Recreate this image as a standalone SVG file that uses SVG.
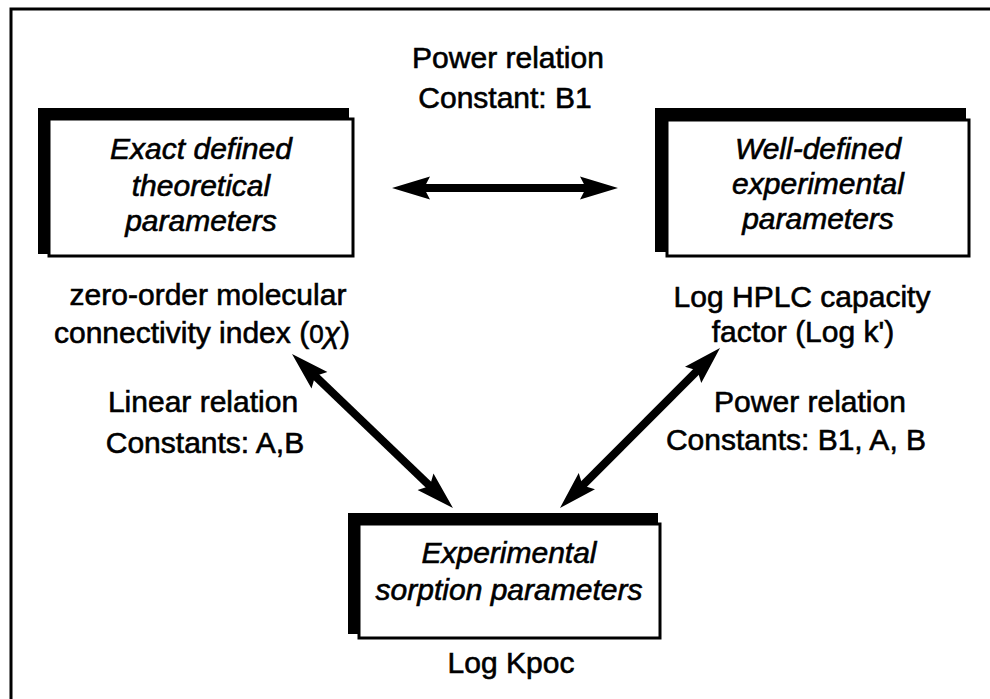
<svg xmlns="http://www.w3.org/2000/svg" width="990" height="699" viewBox="0 0 990 699">
<style>
text{font-family:"Liberation Sans",Arial,sans-serif;font-size:30px;fill:#000;stroke:#000;stroke-width:0.6;text-anchor:middle}
.it{font-style:italic}
.shadow{fill:#000}
.box{fill:#fff;stroke:#000;stroke-width:3}
.arrow{stroke:#000;stroke-width:8;fill:none;marker-start:url(#ah);marker-end:url(#ah)}
</style>
<defs>
<marker id="ah" markerUnits="userSpaceOnUse" viewBox="0 0 38 24" refX="8" refY="12" markerWidth="38" markerHeight="24" orient="auto-start-reverse">
<path d="M0,0.5 L38,12 L0,23.5 L6,12 z" fill="#000"/>
</marker>
</defs>
<rect width="990" height="699" fill="#fff"/>
<rect x="11" y="9" width="1000" height="720" fill="none" stroke="#000" stroke-width="3"/>

<g id="top-label">
<text x="508" y="68">Power relation</text>
<text x="505" y="108">Constant: B1</text>
</g>

<g id="node-theoretical">
<rect class="shadow" x="38" y="108" width="311" height="146"/>
<rect class="box" x="49" y="119" width="304" height="137"/>
<text class="it" x="201" y="159">Exact defined</text>
<text class="it" x="201" y="196">theoretical</text>
<text class="it" x="201" y="231">parameters</text>
</g>

<g id="node-experimental">
<rect class="shadow" x="655" y="108" width="311" height="144"/>
<rect class="box" x="667" y="120" width="302" height="136"/>
<text class="it" x="818" y="159">Well-defined</text>
<text class="it" x="818" y="194">experimental</text>
<text class="it" x="818" y="229">parameters</text>
</g>

<g id="node-sorption">
<rect class="shadow" x="348" y="513" width="310" height="121"/>
<rect class="box" x="359" y="524" width="301" height="114"/>
<text class="it" x="509" y="563">Experimental</text>
<text class="it" x="509" y="600">sorption parameters</text>
</g>

<g id="labels">
<text x="208" y="305">zero-order molecular</text>
<text x="202" y="343">connectivity index (<tspan font-size="26">0</tspan><tspan class="it">χ</tspan>)</text>
<text x="203" y="412">Linear relation</text>
<text x="205" y="453">Constants:  A,B</text>
<text x="802" y="307">Log HPLC capacity</text>
<text x="803" y="342">factor (Log k')</text>
<text x="810" y="412">Power relation</text>
<text x="796" y="450">Constants: B1, A, B</text>
<text x="511" y="673">Log Kpoc</text>
</g>

<g id="connectors">
<line class="arrow" x1="422" y1="188" x2="588" y2="188"/>
<line class="arrow" x1="313.7" y1="374.7" x2="431.3" y2="487.3"/>
<line class="arrow" x1="698.8" y1="369.2" x2="581.2" y2="486.8"/>
</g>
</svg>
